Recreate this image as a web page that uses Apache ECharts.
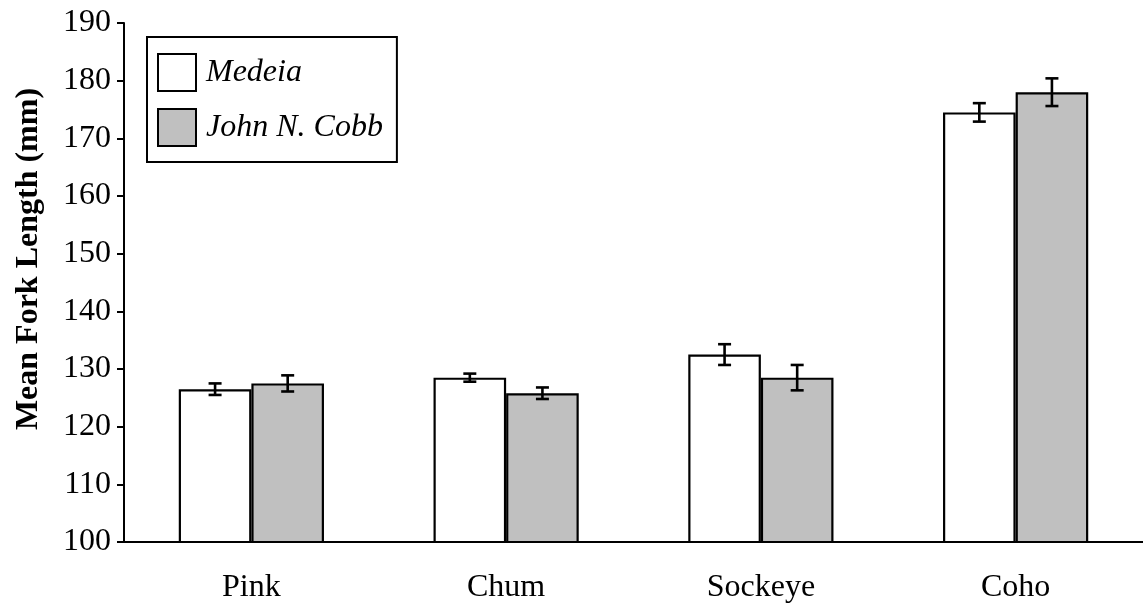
<!DOCTYPE html>
<html>
<head>
<meta charset="utf-8">
<script src="https://cdn.jsdelivr.net/npm/echarts@6/dist/echarts.min.js"></script>
<style>html,body{margin:0;padding:0;background:#fff}#c{width:1143px;height:607px}</style>
</head>
<body>
<div id="c"></div>
<script>
const categories = ['Pink', 'Chum', 'Sockeye', 'Coho'];
const medeia = [126.5, 128.5, 132.5, 174.5];
const medeiaErr = [1.0, 0.7, 1.8, 1.6];
const cobb = [127.5, 125.8, 128.5, 178.0];
const cobbErr = [1.4, 1.0, 2.2, 2.4];
const yTicks = { min: 100, max: 190, interval: 10 };

const FONT = "'Liberation Serif','Times New Roman',serif";
const GAP = 0.43;

function errData(vals, errs) {
  return vals.map((v, i) => [i, v - errs[i], v + errs[i]]);
}
function errSeries(name, vals, errs, side) {
  return {
    type: 'custom',
    name: name + ' err',
    silent: true,
    z: 10,
    data: errData(vals, errs),
    renderItem: function (params, api) {
      const i = api.value(0);
      const band = api.size([1, 0])[0];
      const bw = band * (1 - GAP) / 2;
      const lo = api.coord([i, api.value(1)]);
      const hi = api.coord([i, api.value(2)]);
      const x = lo[0] + side * bw / 2;
      const cap = 6.5;
      const st = { stroke: '#000', lineWidth: 2.6 };
      return {
        type: 'group',
        children: [
          { type: 'line', shape: { x1: x, y1: hi[1], x2: x, y2: lo[1] }, style: st },
          { type: 'line', shape: { x1: x - cap, y1: hi[1], x2: x + cap, y2: hi[1] }, style: st },
          { type: 'line', shape: { x1: x - cap, y1: lo[1], x2: x + cap, y2: lo[1] }, style: st }
        ]
      };
    }
  };
}

const chart = echarts.init(document.getElementById('c'), null, { renderer: 'canvas' });
chart.setOption({
  animation: false,
  backgroundColor: '#fff',
  grid: { left: 124, top: 23, width: 1025, height: 519, containLabel: false },
  legend: {
    data: ['Medeia', 'John N. Cobb'],
    orient: 'vertical',
    left: 147, top: 37,
    padding: [16, 14, 15, 10],
    itemWidth: 38, itemHeight: 37, itemGap: 16,
    borderColor: '#000', borderWidth: 2,
    icon: 'rect',
    itemStyle: { borderColor: '#000', borderWidth: 2 },
    textStyle: { fontFamily: FONT, fontStyle: 'italic', fontSize: 32, color: '#000', padding: [0, 0, 0, 5] }
  },
  xAxis: {
    type: 'category',
    data: categories,
    axisLine: { lineStyle: { color: '#000', width: 2 } },
    axisTick: { length: 7, lineStyle: { color: '#000', width: 2 } },
    axisLabel: { fontFamily: FONT, fontSize: 32, color: '#000', margin: 30 }
  },
  yAxis: {
    type: 'value',
    min: yTicks.min, max: yTicks.max, interval: yTicks.interval,
    axisLine: { show: true, lineStyle: { color: '#000', width: 2 } },
    axisTick: { show: true, length: 7, lineStyle: { color: '#000', width: 2 } },
    splitLine: { show: false },
    axisLabel: { fontFamily: FONT, fontSize: 32, color: '#000', margin: 13 }
  },
  graphic: [{
    type: 'text',
    x: 29, y: 259,
    rotation: Math.PI / 2,
    style: {
      text: 'Mean Fork Length (mm)',
      fontFamily: FONT, fontWeight: 'bold', fontSize: 32, fill: '#000',
      align: 'center', verticalAlign: 'middle'
    }
  }],
  series: [
    {
      name: 'Medeia', type: 'bar', data: medeia,
      barGap: '0%', barCategoryGap: (GAP * 100) + '%',
      itemStyle: { color: '#ffffff', borderColor: '#000', borderWidth: 2.2 }
    },
    {
      name: 'John N. Cobb', type: 'bar', data: cobb,
      barGap: '0%', barCategoryGap: (GAP * 100) + '%',
      itemStyle: { color: '#c0c0c0', borderColor: '#000', borderWidth: 2.2 }
    },
    errSeries('Medeia', medeia, medeiaErr, -1),
    errSeries('John N. Cobb', cobb, cobbErr, 1)
  ]
});
</script>
</body>
</html>
